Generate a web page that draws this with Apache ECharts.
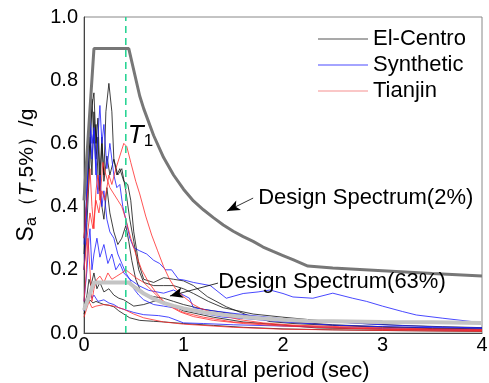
<!DOCTYPE html>
<html><head><meta charset="utf-8">
<script src="https://cdn.jsdelivr.net/npm/echarts@6/dist/echarts.min.js"></script>
<style>html,body{margin:0;padding:0;background:#fff}#c{width:489px;height:383px}</style>
</head><body><div id="c"></div>
<script>
// ---- data (period T in sec, Sa in g) ----
const xTicks = [0, 1, 2, 3, 4];
const yTicks = [0.0, 0.2, 0.4, 0.6, 0.8, 1.0];
const T1 = 0.42;
const t1Line = [[T1, 0], [T1, 1.0]];

const designSpectrum2 = [[0,0.42],[0.1,0.9],[0.45,0.9],[0.56,0.75],[0.6,0.71],[0.7,0.625],[0.8,0.555],[0.9,0.5],[1.0,0.455],[1.1,0.418],[1.2,0.39],[1.3,0.365],[1.4,0.342],[1.5,0.322],[1.6,0.305],[1.7,0.29],[1.8,0.272],[1.9,0.258],[2.0,0.245],[2.1,0.232],[2.25,0.212],[2.5,0.206],[3.0,0.197],[3.5,0.188],[4.0,0.18]];
const designSpectrum63 = [[0,0.072],[0.1,0.16],[0.45,0.16],[0.5,0.147],[0.6,0.125],[0.7,0.108],[0.8,0.095],[0.9,0.086],[1.0,0.078],[1.2,0.066],[1.4,0.058],[1.6,0.051],[1.8,0.046],[2.0,0.042],[2.25,0.038],[2.5,0.037],[3.0,0.035],[3.5,0.034],[4.0,0.032]];

const elCentro1 = [[0,0.3],[0.03,0.42],[0.06,0.62],[0.08,0.5],[0.1,0.7],[0.12,0.55],[0.14,0.62],[0.16,0.45],[0.18,0.6],[0.2,0.5],[0.22,0.7],[0.25,0.79],[0.28,0.7],[0.3,0.55],[0.33,0.5],[0.36,0.52],[0.4,0.48],[0.44,0.47],[0.47,0.42],[0.5,0.32],[0.55,0.22],[0.6,0.17],[0.7,0.16],[0.8,0.175],[0.9,0.17],[1.0,0.165],[1.1,0.15],[1.24,0.115],[1.43,0.083],[1.64,0.057],[1.87,0.036],[2.1,0.03],[2.5,0.024],[3.0,0.018],[3.5,0.014],[4,0.012]];
const elCentro2 = [[0,0.25],[0.03,0.45],[0.06,0.62],[0.08,0.72],[0.1,0.76],[0.12,0.6],[0.14,0.68],[0.16,0.5],[0.18,0.62],[0.2,0.48],[0.23,0.56],[0.26,0.5],[0.3,0.55],[0.34,0.5],[0.38,0.52],[0.42,0.45],[0.46,0.36],[0.5,0.29],[0.55,0.2],[0.6,0.16],[0.7,0.15],[0.8,0.15],[0.9,0.15],[1.0,0.14],[1.1,0.125],[1.25,0.1],[1.4,0.08],[1.7,0.06],[2.0,0.05],[2.34,0.04],[2.8,0.03],[3.2,0.024],[3.6,0.02],[4,0.017]];
const elCentro3 = [[0,0.2],[0.03,0.35],[0.06,0.55],[0.08,0.74],[0.1,0.6],[0.12,0.66],[0.14,0.5],[0.17,0.42],[0.2,0.36],[0.23,0.46],[0.26,0.38],[0.3,0.32],[0.34,0.28],[0.38,0.3],[0.42,0.34],[0.45,0.29],[0.48,0.23],[0.52,0.17],[0.56,0.14],[0.63,0.12],[0.7,0.115],[0.8,0.11],[0.9,0.1],[1.0,0.09],[1.2,0.075],[1.5,0.06],[1.8,0.045],[2.1,0.035],[2.5,0.026],[3,0.02],[3.5,0.016],[4,0.013]];
const elCentro4 = [[0,0.06],[0.03,0.09],[0.06,0.104],[0.09,0.095],[0.12,0.1],[0.16,0.095],[0.2,0.09],[0.25,0.088],[0.3,0.083],[0.35,0.07],[0.4,0.06],[0.46,0.048],[0.56,0.04],[0.7,0.037],[0.8,0.035],[1.0,0.03],[1.3,0.024],[1.6,0.018],[2.0,0.013],[2.5,0.01],[3.0,0.008],[4,0.005]];
const elCentro5 = [[0,0.08],[0.03,0.12],[0.05,0.17],[0.07,0.15],[0.1,0.19],[0.13,0.14],[0.16,0.16],[0.2,0.13],[0.25,0.14],[0.3,0.12],[0.35,0.11],[0.4,0.105],[0.45,0.095],[0.5,0.085],[0.6,0.09],[0.7,0.1],[0.76,0.104],[0.9,0.085],[1.0,0.07],[1.3,0.05],[1.6,0.035],[2.0,0.025],[2.34,0.016],[3,0.012],[4,0.008]];

const synthetic1 = [[0,0.28],[0.02,0.4],[0.04,0.6],[0.06,0.66],[0.08,0.55],[0.1,0.65],[0.12,0.5],[0.14,0.62],[0.16,0.72],[0.18,0.6],[0.2,0.66],[0.23,0.52],[0.26,0.6],[0.3,0.5],[0.33,0.46],[0.36,0.47],[0.39,0.4],[0.42,0.36],[0.46,0.3],[0.5,0.27],[0.56,0.26],[0.63,0.25],[0.7,0.23],[0.76,0.22],[0.82,0.2],[0.88,0.2],[0.95,0.17],[1.0,0.168],[1.1,0.16],[1.27,0.15],[1.43,0.11],[1.6,0.125],[1.75,0.13],[1.87,0.136],[2.0,0.125],[2.1,0.114],[2.3,0.11],[2.5,0.126],[2.7,0.11],[2.84,0.1],[3.0,0.085],[3.2,0.068],[3.34,0.057],[3.6,0.047],[3.93,0.035],[4,0.034]];
const synthetic2 = [[0,0.2],[0.02,0.3],[0.04,0.55],[0.06,0.69],[0.08,0.6],[0.1,0.64],[0.12,0.52],[0.14,0.44],[0.16,0.5],[0.18,0.4],[0.2,0.45],[0.23,0.36],[0.26,0.32],[0.3,0.3],[0.34,0.25],[0.38,0.22],[0.42,0.19],[0.46,0.17],[0.5,0.14],[0.55,0.12],[0.6,0.105],[0.7,0.09],[0.8,0.085],[0.9,0.08],[1.0,0.075],[1.2,0.062],[1.4,0.05],[1.64,0.045],[2,0.035],[2.5,0.025],[3,0.02],[3.5,0.017],[4,0.015]];
const synthetic3 = [[0,0.07],[0.03,0.1],[0.06,0.13],[0.08,0.11],[0.1,0.12],[0.14,0.1],[0.2,0.105],[0.25,0.095],[0.3,0.09],[0.35,0.08],[0.4,0.075],[0.45,0.07],[0.5,0.065],[0.6,0.058],[0.75,0.055],[0.85,0.05],[1.0,0.032],[1.2,0.03],[1.5,0.026],[2,0.022],[2.5,0.018],[3,0.014],[3.5,0.011],[4,0.009]];
const synthetic4 = [[0,0.1],[0.03,0.2],[0.05,0.3],[0.06,0.33],[0.08,0.2],[0.1,0.25],[0.13,0.3],[0.16,0.24],[0.2,0.28],[0.24,0.22],[0.28,0.25],[0.32,0.2],[0.36,0.22],[0.4,0.19],[0.46,0.17],[0.55,0.15],[0.65,0.135],[0.8,0.126],[0.9,0.136],[1.06,0.11],[1.1,0.08],[1.3,0.07],[1.64,0.057],[2,0.045],[2.5,0.035],[3,0.026],[3.5,0.02],[4,0.016]];

const tianjin1 = [[0,0.2],[0.03,0.3],[0.06,0.38],[0.09,0.33],[0.12,0.42],[0.15,0.38],[0.18,0.45],[0.21,0.42],[0.25,0.5],[0.28,0.47],[0.32,0.52],[0.36,0.56],[0.4,0.6],[0.43,0.59],[0.47,0.54],[0.52,0.48],[0.56,0.44],[0.62,0.37],[0.68,0.31],[0.74,0.26],[0.8,0.21],[0.86,0.17],[0.92,0.14],[1.0,0.115],[1.1,0.09],[1.17,0.078],[1.35,0.058],[1.57,0.042],[1.8,0.032],[2.1,0.025],[2.57,0.02],[3,0.016],[3.5,0.013],[4,0.011]];
const tianjin2 = [[0,0.3],[0.02,0.39],[0.04,0.45],[0.06,0.52],[0.08,0.4],[0.1,0.33],[0.12,0.45],[0.14,0.5],[0.16,0.42],[0.19,0.54],[0.22,0.5],[0.26,0.46],[0.3,0.44],[0.34,0.42],[0.38,0.4],[0.42,0.36],[0.47,0.3],[0.52,0.25],[0.58,0.2],[0.65,0.16],[0.72,0.13],[0.8,0.1],[0.9,0.08],[1.0,0.065],[1.2,0.05],[1.5,0.035],[2,0.025],[2.5,0.018],[3,0.012],[4,0.008]];
const tianjin3 = [[0,0.1],[0.02,0.18],[0.04,0.3],[0.06,0.2],[0.08,0.1],[0.1,0.14],[0.13,0.17],[0.16,0.18],[0.2,0.16],[0.24,0.19],[0.28,0.17],[0.33,0.18],[0.38,0.19],[0.42,0.2],[0.46,0.19],[0.52,0.175],[0.6,0.16],[0.68,0.135],[0.76,0.11],[0.86,0.085],[0.97,0.066],[1.1,0.052],[1.3,0.04],[1.6,0.03],[2,0.022],[2.5,0.016],[3,0.012],[4,0.008]];
const tianjin4 = [[0,0.05],[0.03,0.08],[0.05,0.1],[0.08,0.08],[0.12,0.085],[0.2,0.09],[0.3,0.085],[0.4,0.075],[0.5,0.06],[0.6,0.048],[0.8,0.035],[1.0,0.028],[1.5,0.018],[2,0.012],[3,0.008],[4,0.005]];

const groups = [
  {name: 'El-Centro', color: '#111111', legendColor: '#555555', curves: [elCentro1, elCentro2, elCentro3, elCentro4, elCentro5]},
  {name: 'Synthetic', color: '#1a1aff', legendColor: '#4a4aff', curves: [synthetic1, synthetic2, synthetic3, synthetic4]},
  {name: 'Tianjin',   color: '#ff2a2a', legendColor: '#f59090', curves: [tianjin1, tianjin2, tianjin3, tianjin4]}
];

const FONT = 'Liberation Sans, Arial, sans-serif';
const series = [];
groups.forEach(g => g.curves.forEach(c => series.push({
  name: g.name, type: 'line', data: c, showSymbol: false, symbol: 'none', silent: true,
  lineStyle: {color: g.color, width: 0.8}, itemStyle: {color: g.legendColor}, z: 3
})));
series.push({type: 'line', data: designSpectrum2, symbol: 'none', silent: true,
  lineStyle: {color: '#777777', width: 3}, z: 4});
series.push({type: 'line', data: designSpectrum63, symbol: 'none', silent: true,
  lineStyle: {color: '#c4c4c4', width: 4}, z: 4});
series.push({type: 'line', data: t1Line, symbol: 'none', silent: true,
  lineStyle: {color: '#2ad494', width: 1.6, type: [7, 5]}, z: 5});
// annotation arrows
series.push({type: 'line', data: [], silent: true, markLine: {
  silent: true, symbol: ['none', 'arrow'], symbolSize: [8, 13], animation: false,
  lineStyle: {color: '#000', width: 0.8, type: 'solid'}, label: {show: false},
  data: [
    [{coord: [1.70, 0.427]}, {coord: [1.437, 0.386]}],
    [{coord: [1.347, 0.158]}, {coord: [0.864, 0.117]}]
  ]}});

const chart = echarts.init(document.getElementById('c'), null, {renderer: 'canvas'});
chart.setOption({
  animation: false,
  grid: {left: 84, right: 7, top: 17, bottom: 50, show: true, borderColor: '#888', borderWidth: 1,
    containLabel: false, outerBoundsMode: 'none'},
  legend: {
    orient: 'vertical', left: 318, top: 28, padding: 0, itemGap: 4, itemWidth: 50, itemHeight: 1,
    icon: 'rect', selectedMode: false,
    data: groups.map(g => g.name),
    textStyle: {fontSize: 22, fontFamily: FONT, color: '#000'}
  },
  xAxis: {
    type: 'value', min: xTicks[0], max: xTicks[xTicks.length - 1], interval: 1,
    name: 'Natural period (sec)', nameLocation: 'middle', nameGap: 27,
    nameTextStyle: {fontSize: 22, fontFamily: FONT, color: '#000', padding: [0, 20, 0, 0]},
    axisLine: {show: true, onZero: false, lineStyle: {color: '#444', width: 1}},
    axisTick: {show: false}, splitLine: {show: false},
    axisLabel: {fontSize: 20, fontFamily: FONT, color: '#000', margin: 2,
      formatter: v => xTicks.includes(v) ? String(v) : ''}
  },
  yAxis: {
    type: 'value', min: yTicks[0], max: yTicks[yTicks.length - 1], interval: 0.2,
    name: '{s|S}{sub|a}{p|（}{i|T}{p|,5%）/g}', nameLocation: 'middle', nameGap: 44,
    nameTextStyle: {fontFamily: FONT, color: '#000', rich: {
      s: {fontSize: 23, fontFamily: FONT, color: '#000'},
      sub: {fontSize: 16, fontFamily: FONT, color: '#000', verticalAlign: 'bottom', padding: [9, 0, 0, 0]},
      p: {fontSize: 21, fontFamily: FONT, color: '#000'},
      i: {fontSize: 21, fontFamily: FONT, fontStyle: 'italic', color: '#000'}
    }},
    axisLine: {show: true, lineStyle: {color: '#444', width: 1}},
    axisTick: {show: false}, splitLine: {show: false},
    axisLabel: {fontSize: 20, fontFamily: FONT, color: '#000', margin: 6,
      formatter: v => v.toFixed(1)}
  },
  series: series
});

function place() {
  const p2 = chart.convertToPixel({gridIndex: 0}, [1.75, 0.427]);
  const p63 = chart.convertToPixel({gridIndex: 0}, [1.35, 0.161]);
  const pT = chart.convertToPixel({gridIndex: 0}, [T1 + 0.02, 0.625]);
  chart.setOption({graphic: [
    {type: 'text', x: p2[0], y: p2[1], z: 10, style: {text: 'Design Spectrum(2%)', font: '22px ' + FONT, fill: '#000', textVerticalAlign: 'middle'}},
    {type: 'text', x: p63[0], y: p63[1], z: 10, style: {text: 'Design Spectrum(63%)', font: '22px ' + FONT, fill: '#000', textVerticalAlign: 'middle'}},
    {type: 'text', x: pT[0], y: pT[1], z: 10, style: {
      text: '{i|T}{s|1}', textVerticalAlign: 'middle',
      rich: {i: {fontSize: 26, fontFamily: FONT, fontStyle: 'italic', fill: '#000'},
             s: {fontSize: 17, fontFamily: FONT, fill: '#000', verticalAlign: 'bottom', padding: [12, 0, 0, 0]}}}}
  ]});
}
place();
</script></body></html>
